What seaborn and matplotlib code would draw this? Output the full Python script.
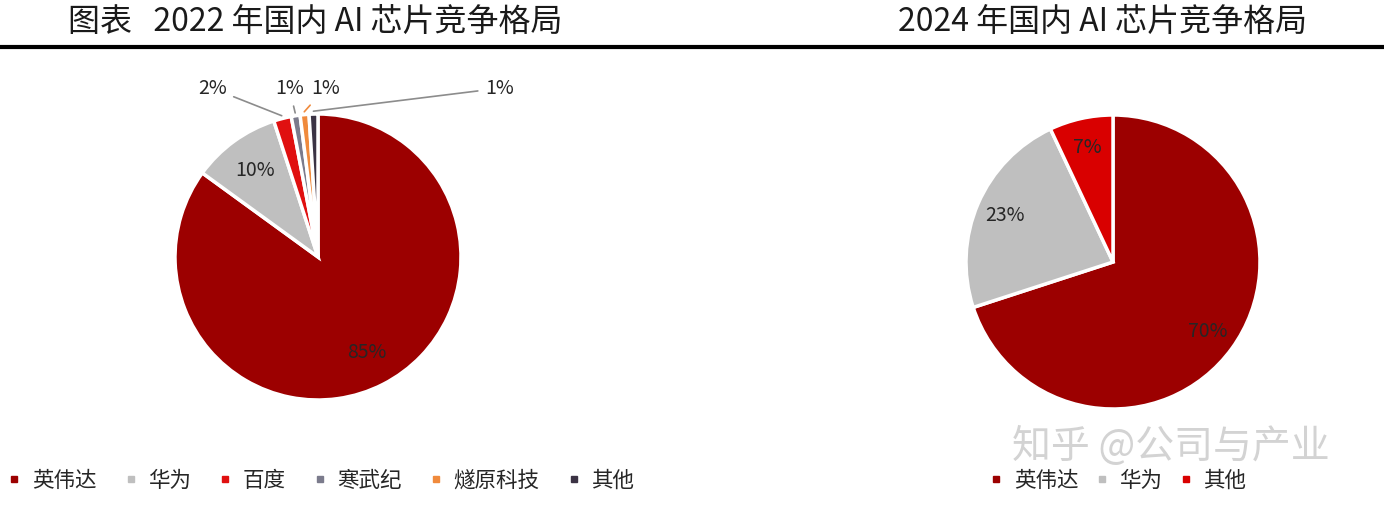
import numpy as np
import seaborn as sns
import matplotlib.pyplot as plt
from matplotlib.lines import Line2D

# Data
labels_2022 = ['英伟达', '华为', '百度', '寒武纪', '燧原科技', '其他']
share_2022 = [85, 10, 2, 1, 1, 1]
colors_2022 = ['#9c0000', '#bfbfbf', '#e01010', '#7b7b8c', '#f08a3c', '#3b3344']

labels_2024 = ['英伟达', '华为', '其他']
share_2024 = [70, 23, 7]
colors_2024 = ['#9c0000', '#bfbfbf', '#d90000']

sns.set_style('white')
plt.rcParams['font.family'] = ['Noto Sans CJK SC', 'DejaVu Sans']

W, H = 1384, 512
fig = plt.figure(figsize=(W / 100, H / 100), dpi=100)
fig.patch.set_facecolor('white')


def px_axes(cx, cy, r):
    return fig.add_axes([(cx - r) / W, (H - cy - r) / H, 2 * r / W, 2 * r / H])


wedge_kw = dict(edgecolor='white', linewidth=2.5)
txt_col = '#262626'
pct_size = 14

# 2022 pie
ax1 = px_axes(318, 257, 143)
wedges, _, autotexts = ax1.pie(
    share_2022, colors=colors_2022, startangle=90, counterclock=False,
    autopct=lambda p: f'{p:.0f}%' if p >= 5 else '', pctdistance=0.75,
    wedgeprops=wedge_kw, textprops=dict(fontsize=pct_size, color=txt_col))
ax1.set_xlim(-1, 1)
ax1.set_ylim(-1, 1)

# small slices labelled outside with leader lines
text_pos = [(-0.74, 1.18), (-0.20, 1.18), (0.05, 1.18), (1.27, 1.18)]
line_cols = ['#8c8c8c', '#8c8c8c', '#f08a3c', '#8c8c8c']
for i, (w, pos, lc) in enumerate(zip(wedges[2:], text_pos, line_cols)):
    ang = np.deg2rad((w.theta1 + w.theta2) / 2)
    ax1.annotate(f'{share_2022[i + 2]}%', xy=(1.02 * np.cos(ang), 1.02 * np.sin(ang)),
                 xytext=pos, ha='center', va='center', fontsize=pct_size, color=txt_col,
                 annotation_clip=False,
                 arrowprops=dict(arrowstyle='-', color=lc, lw=1.2, shrinkA=3, shrinkB=0))

# 2024 pie
ax2 = px_axes(1113, 262, 147)
ax2.pie(share_2024, colors=colors_2024, startangle=90, counterclock=False,
        autopct='%.0f%%', pctdistance=0.8, wedgeprops=wedge_kw,
        textprops=dict(fontsize=pct_size, color=txt_col))
ax2.set_xlim(-1, 1)
ax2.set_ylim(-1, 1)

# Titles and rule
fig.text(68 / W, 1 - 22 / H, '图表   2022 年国内 AI 芯片竞争格局', fontsize=23,
         ha='left', va='center', color='#1a1a1a')
fig.text(898 / W, 1 - 22 / H, '2024 年国内 AI 芯片竞争格局', fontsize=23,
         ha='left', va='center', color='#1a1a1a')
fig.add_artist(Line2D([0, 1], [1 - 47 / H] * 2, color='black', lw=3))

# Watermark
fig.text(1012 / W, 1 - 447 / H, '知乎 @公司与产业', fontsize=28, ha='left', va='center',
         color='#c8c8c8', alpha=0.8)


# Legends
def make_handles(cols):
    return [Line2D([], [], marker='s', linestyle='none', markersize=5,
                   markerfacecolor=c, markeredgecolor=c) for c in cols]


leg_kw = dict(frameon=False, fontsize=15.5, handlelength=0.6, handletextpad=0.5,
              borderaxespad=0, borderpad=0)
fig.legend(make_handles(colors_2022), labels_2022, loc='center left',
           bbox_to_anchor=(8 / W, 1 - 481 / H), ncol=6, columnspacing=1.3, **leg_kw)
fig.legend(make_handles(colors_2024), labels_2024, loc='center left',
           bbox_to_anchor=(990 / W, 1 - 481 / H), ncol=3, columnspacing=0.8, **leg_kw)

fig.savefig('out.png', dpi=100, facecolor='white')
